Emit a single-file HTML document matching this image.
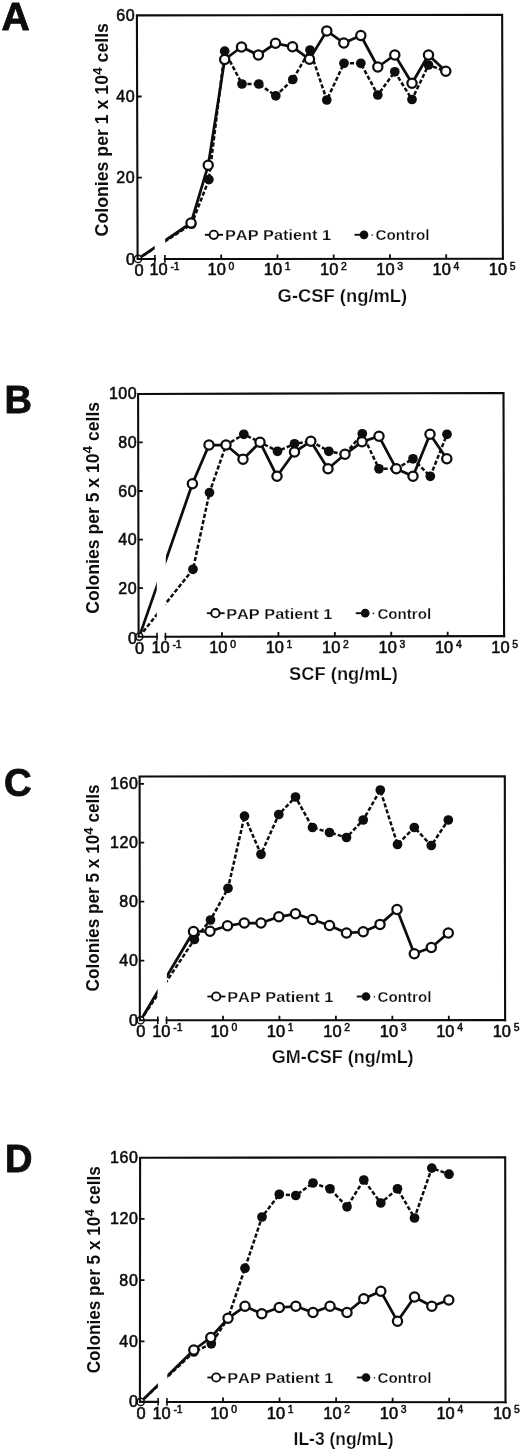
<!DOCTYPE html>
<html><head><meta charset="utf-8"><title>Figure</title>
<style>
html,body{margin:0;padding:0;background:#fff;}
body{width:520px;height:1451px;overflow:hidden;}
svg{display:block;will-change:transform;}
text{font-family:"Liberation Sans",sans-serif;fill:#0d0d0d;stroke:#0d0d0d;stroke-width:0.55;stroke-linejoin:round;}
.ln{fill:none;stroke:#0d0d0d;stroke-width:2.75;stroke-linejoin:round;stroke-linecap:butt;}
.ds{fill:none;stroke:#0d0d0d;stroke-width:2.5;stroke-dasharray:4.2 2.1;stroke-linejoin:round;}
.op{fill:#fff;stroke:#0d0d0d;stroke-width:2.25;}
.fl{fill:#0d0d0d;stroke:none;}
.ax{fill:none;stroke:#0d0d0d;stroke-width:2.1;stroke-linecap:square;}
.tk{fill:none;stroke:#0d0d0d;stroke-width:1.8;}
</style></head>
<body>
<svg width="520" height="1451" viewBox="0 0 520 1451">
<rect x="0" y="0" width="520" height="1451" fill="#ffffff"/>
<g>
<!-- Panel A -->
<g>
<text x="1.6" y="30.4" font-size="39.6" font-weight="bold" style="stroke-width:0.85" textLength="28.2" lengthAdjust="spacingAndGlyphs">A</text>
<polyline class="ds" points="138,258.9 191.6,224.2 208.9,179.6 224.7,51.2 242,84 258.8,84 275.8,95.8 292.8,79.5 310,50 326.8,100 344,63.3 360.8,63.3 377.8,95 394.8,71.8 412,99.5 428.5,65 445.8,71.3"/>
<circle class="fl" cx="191.6" cy="224.2" r="4.85"/>
<circle class="fl" cx="208.9" cy="179.6" r="4.85"/>
<circle class="fl" cx="224.7" cy="51.2" r="4.85"/>
<circle class="fl" cx="242" cy="84" r="4.85"/>
<circle class="fl" cx="258.8" cy="84" r="4.85"/>
<circle class="fl" cx="275.8" cy="95.8" r="4.85"/>
<circle class="fl" cx="292.8" cy="79.5" r="4.85"/>
<circle class="fl" cx="310" cy="50" r="4.85"/>
<circle class="fl" cx="326.8" cy="100" r="4.85"/>
<circle class="fl" cx="344" cy="63.3" r="4.85"/>
<circle class="fl" cx="360.8" cy="63.3" r="4.85"/>
<circle class="fl" cx="377.8" cy="95" r="4.85"/>
<circle class="fl" cx="394.8" cy="71.8" r="4.85"/>
<circle class="fl" cx="412" cy="99.5" r="4.85"/>
<circle class="fl" cx="428.5" cy="65" r="4.85"/>
<circle class="fl" cx="445.8" cy="71.3" r="4.85"/>
<polyline class="ln" points="138,258.9 191,223 208.2,165.3 224.7,59.5 241.5,47 258.4,55 275.5,43.3 292.5,46.8 309.5,59.3 326.8,30.9 343.8,43 360.8,35.5 377.8,67 394.8,55 412,83.3 428.5,55 445.8,71.3"/>
<circle cx="138" cy="258.9" r="3.6" fill="#fff" stroke="#0d0d0d" stroke-width="1.4"/>
<rect x="154.7" y="17.4" width="10.5" height="241.6" fill="#fff"/>
<path class="ax" d="M154.9 258.99 L137.6 259 L136.9 15.4 L502.15 14.8 L502.9 258.8"/>
<path class="ax" d="M502.9 258.8 L164.9 258.99"/>
<path class="tk" style="stroke-width:1.6" d="M154.9 255.09 V262.69 M164.9 255.09 V262.69"/>
<path class="tk" d="M221.2 258.95 V254.45 M277.45 258.92 V254.42 M333.7 258.89 V254.39 M389.95 258.86 V254.36 M446.2 258.83 V254.33 M137.37 177.7 H141.87 M137.13 96.5 H141.63"/>
<circle class="op" cx="191" cy="223" r="4.62"/>
<circle class="op" cx="208.2" cy="165.3" r="4.62"/>
<circle class="op" cx="224.7" cy="59.5" r="4.62"/>
<circle class="op" cx="241.5" cy="47" r="4.62"/>
<circle class="op" cx="258.4" cy="55" r="4.62"/>
<circle class="op" cx="275.5" cy="43.3" r="4.62"/>
<circle class="op" cx="292.5" cy="46.8" r="4.62"/>
<circle class="op" cx="309.5" cy="59.3" r="4.62"/>
<circle class="op" cx="326.8" cy="30.9" r="4.62"/>
<circle class="op" cx="343.8" cy="43" r="4.62"/>
<circle class="op" cx="360.8" cy="35.5" r="4.62"/>
<circle class="op" cx="377.8" cy="67" r="4.62"/>
<circle class="op" cx="394.8" cy="55" r="4.62"/>
<circle class="op" cx="412" cy="83.3" r="4.62"/>
<circle class="op" cx="428.5" cy="55" r="4.62"/>
<circle class="op" cx="445.8" cy="71.3" r="4.62"/>
<text x="125.94" y="265.4" font-size="16" textLength="9.26" lengthAdjust="spacing">0</text>
<text x="116.19" y="183.2" font-size="16" textLength="18.51" lengthAdjust="spacing">20</text>
<text x="116.19" y="102" font-size="16" textLength="18.51" lengthAdjust="spacing">40</text>
<text x="116.19" y="20.9" font-size="16" textLength="18.51" lengthAdjust="spacing">60</text>
<text x="134.53" y="275.5" font-size="15.8" textLength="9.14" lengthAdjust="spacingAndGlyphs">0</text>
<text x="149.4" y="275.3" font-size="15.8" textLength="18.28" lengthAdjust="spacingAndGlyphs">10</text><text x="170.38" y="269.6" font-size="10.4" style="stroke-width:0.5">-1</text>
<text x="207.62" y="275.3" font-size="15.8" textLength="18.28" lengthAdjust="spacingAndGlyphs">10</text><text x="228.6" y="269.6" font-size="10.4" style="stroke-width:0.5">0</text>
<text x="263.87" y="275.3" font-size="15.8" textLength="18.28" lengthAdjust="spacingAndGlyphs">10</text><text x="284.85" y="269.6" font-size="10.4" style="stroke-width:0.5">1</text>
<text x="320.12" y="275.3" font-size="15.8" textLength="18.28" lengthAdjust="spacingAndGlyphs">10</text><text x="341.1" y="269.6" font-size="10.4" style="stroke-width:0.5">2</text>
<text x="376.37" y="275.3" font-size="15.8" textLength="18.28" lengthAdjust="spacingAndGlyphs">10</text><text x="397.35" y="269.6" font-size="10.4" style="stroke-width:0.5">3</text>
<text x="432.62" y="275.3" font-size="15.8" textLength="18.28" lengthAdjust="spacingAndGlyphs">10</text><text x="453.6" y="269.6" font-size="10.4" style="stroke-width:0.5">4</text>
<text x="488.87" y="275.3" font-size="15.8" textLength="18.28" lengthAdjust="spacingAndGlyphs">10</text><text x="509.85" y="269.6" font-size="10.4" style="stroke-width:0.5">5</text>
<text x="277.6" y="302.3" font-size="18.6" font-weight="bold" style="stroke:#fff;stroke-width:0.25" textLength="129.6" lengthAdjust="spacingAndGlyphs">G-CSF (ng/mL)</text>
<g transform="translate(108.2 236.4) rotate(-90)"><text x="0" y="0" font-size="17.6" font-weight="bold" style="stroke:none" textLength="213.4" lengthAdjust="spacingAndGlyphs">Colonies per 1 x 10<tspan font-size="13.5" dy="-6.6">4</tspan><tspan dy="6.6"> cells</tspan></text></g>
<path class="ln" style="stroke-width:1.9" d="M204.9 234.8 H223"/><circle class="op" cx="213.8" cy="234.8" r="4.15" style="stroke-width:1.9"/><text x="225" y="240.4" font-size="15" font-weight="bold" style="stroke:#fff;stroke-width:0.25;font-kerning:none" textLength="106" lengthAdjust="spacingAndGlyphs">PAP Patient 1</text>
<path class="ln" style="stroke-width:1.9" d="M354.5 234.8 H364"/><circle class="fl" cx="372.2" cy="235" r="0.8"/><circle class="fl" cx="364" cy="234.8" r="4.35"/><text x="375.6" y="240.4" font-size="15" font-weight="bold" style="stroke:#fff;stroke-width:0.25" textLength="54" lengthAdjust="spacingAndGlyphs">Control</text>
</g>
<!-- Panel B -->
<g>
<text x="4.6" y="413.2" font-size="39.6" font-weight="bold" style="stroke-width:0.85" textLength="27.5" lengthAdjust="spacingAndGlyphs">B</text>
<polyline class="ds" points="139.3,636.6 193,569.3 209.5,492.6 226,445 243.8,434.3 260,442.2 277.5,451.3 294.5,443.8 311,441.3 328.8,451.3 345,454.3 362.3,433.8 379,468.8 396.3,468.8 413,458.8 430.3,476.3 447,434.3"/>
<circle class="fl" cx="193" cy="569.3" r="4.85"/>
<circle class="fl" cx="209.5" cy="492.6" r="4.85"/>
<circle class="fl" cx="226" cy="445" r="4.85"/>
<circle class="fl" cx="243.8" cy="434.3" r="4.85"/>
<circle class="fl" cx="260" cy="442.2" r="4.85"/>
<circle class="fl" cx="277.5" cy="451.3" r="4.85"/>
<circle class="fl" cx="294.5" cy="443.8" r="4.85"/>
<circle class="fl" cx="311" cy="441.3" r="4.85"/>
<circle class="fl" cx="328.8" cy="451.3" r="4.85"/>
<circle class="fl" cx="345" cy="454.3" r="4.85"/>
<circle class="fl" cx="362.3" cy="433.8" r="4.85"/>
<circle class="fl" cx="379" cy="468.8" r="4.85"/>
<circle class="fl" cx="396.3" cy="468.8" r="4.85"/>
<circle class="fl" cx="413" cy="458.8" r="4.85"/>
<circle class="fl" cx="430.3" cy="476.3" r="4.85"/>
<circle class="fl" cx="447" cy="434.3" r="4.85"/>
<polyline class="ln" points="139.3,636.6 192.4,483.8 209,445 226,445 243,459.3 260,442.2 277,476.3 294.5,452 310.8,441.3 328,468.8 345,454.3 362,441.8 379,436.3 396.3,468.8 413,476.3 430,434.3 446.8,458.8"/>
<circle cx="139.3" cy="636.6" r="3.6" fill="#fff" stroke="#0d0d0d" stroke-width="1.4"/>
<rect x="156.8" y="395.95" width="9" height="240.85" fill="#fff"/>
<path class="ax" d="M157 636.77 L138.6 636.8 L138.1 393.95 L503.5 393 L504.1 636.15"/>
<path class="ax" d="M504.1 636.15 L165.5 636.75"/>
<path class="tk" style="stroke-width:1.6" d="M157 632.87 V640.47 M165.5 632.85 V640.45"/>
<path class="tk" d="M222 636.65 V632.15 M278.43 636.55 V632.05 M334.85 636.45 V631.95 M391.27 636.35 V631.85 M447.7 636.25 V631.75 M138.5 588.2 H143 M138.4 539.7 H142.9 M138.3 491 H142.8 M138.2 442.4 H142.7"/>
<circle class="op" cx="192.4" cy="483.8" r="4.62"/>
<circle class="op" cx="209" cy="445" r="4.62"/>
<circle class="op" cx="226" cy="445" r="4.62"/>
<circle class="op" cx="243" cy="459.3" r="4.62"/>
<circle class="op" cx="260" cy="442.2" r="4.62"/>
<circle class="op" cx="277" cy="476.3" r="4.62"/>
<circle class="op" cx="294.5" cy="452" r="4.62"/>
<circle class="op" cx="310.8" cy="441.3" r="4.62"/>
<circle class="op" cx="328" cy="468.8" r="4.62"/>
<circle class="op" cx="345" cy="454.3" r="4.62"/>
<circle class="op" cx="362" cy="441.8" r="4.62"/>
<circle class="op" cx="379" cy="436.3" r="4.62"/>
<circle class="op" cx="396.3" cy="468.8" r="4.62"/>
<circle class="op" cx="413" cy="476.3" r="4.62"/>
<circle class="op" cx="430" cy="434.3" r="4.62"/>
<circle class="op" cx="446.8" cy="458.8" r="4.62"/>
<text x="127.94" y="643.6" font-size="16" textLength="9.26" lengthAdjust="spacing">0</text>
<text x="118.19" y="593.7" font-size="16" textLength="18.51" lengthAdjust="spacing">20</text>
<text x="118.19" y="545.2" font-size="16" textLength="18.51" lengthAdjust="spacing">40</text>
<text x="118.19" y="496.5" font-size="16" textLength="18.51" lengthAdjust="spacing">60</text>
<text x="118.19" y="447.9" font-size="16" textLength="18.51" lengthAdjust="spacing">80</text>
<text x="108.93" y="399.45" font-size="16" textLength="27.77" lengthAdjust="spacing">100</text>
<text x="135.13" y="653.6" font-size="15.8" textLength="9.14" lengthAdjust="spacingAndGlyphs">0</text>
<text x="151.4" y="653.4" font-size="15.8" textLength="18.28" lengthAdjust="spacingAndGlyphs">10</text><text x="172.38" y="647.7" font-size="10.4" style="stroke-width:0.5">-1</text>
<text x="209.22" y="653.4" font-size="15.8" textLength="18.28" lengthAdjust="spacingAndGlyphs">10</text><text x="230.2" y="647.7" font-size="10.4" style="stroke-width:0.5">0</text>
<text x="265.65" y="653.4" font-size="15.8" textLength="18.28" lengthAdjust="spacingAndGlyphs">10</text><text x="286.62" y="647.7" font-size="10.4" style="stroke-width:0.5">1</text>
<text x="322.07" y="653.4" font-size="15.8" textLength="18.28" lengthAdjust="spacingAndGlyphs">10</text><text x="343.05" y="647.7" font-size="10.4" style="stroke-width:0.5">2</text>
<text x="378.5" y="653.4" font-size="15.8" textLength="18.28" lengthAdjust="spacingAndGlyphs">10</text><text x="399.47" y="647.7" font-size="10.4" style="stroke-width:0.5">3</text>
<text x="434.92" y="653.4" font-size="15.8" textLength="18.28" lengthAdjust="spacingAndGlyphs">10</text><text x="455.9" y="647.7" font-size="10.4" style="stroke-width:0.5">4</text>
<text x="491.35" y="653.4" font-size="15.8" textLength="18.28" lengthAdjust="spacingAndGlyphs">10</text><text x="512.32" y="647.7" font-size="10.4" style="stroke-width:0.5">5</text>
<text x="289.1" y="680" font-size="18.6" font-weight="bold" style="stroke:#fff;stroke-width:0.25" textLength="108.8" lengthAdjust="spacingAndGlyphs">SCF (ng/mL)</text>
<g transform="translate(99 613.7) rotate(-90)"><text x="0" y="0" font-size="17.6" font-weight="bold" style="stroke:none" textLength="211.8" lengthAdjust="spacingAndGlyphs">Colonies per 5 x 10<tspan font-size="13.5" dy="-6.6">4</tspan><tspan dy="6.6"> cells</tspan></text></g>
<path class="ln" style="stroke-width:1.9" d="M206.9 613.2 H224.6"/><circle class="op" cx="215.4" cy="613.2" r="4.15" style="stroke-width:1.9"/><text x="226.2" y="618.8" font-size="15" font-weight="bold" style="stroke:#fff;stroke-width:0.25;font-kerning:none" textLength="106.1" lengthAdjust="spacingAndGlyphs">PAP Patient 1</text>
<path class="ln" style="stroke-width:1.9" d="M355.8 613.2 H365.2"/><circle class="fl" cx="373.4" cy="613.4" r="0.8"/><circle class="fl" cx="365.2" cy="613.2" r="4.35"/><text x="377.4" y="618.8" font-size="15" font-weight="bold" style="stroke:#fff;stroke-width:0.25" textLength="53.8" lengthAdjust="spacingAndGlyphs">Control</text>
</g>
<!-- Panel C -->
<g>
<text x="3.9" y="796.1" font-size="39.6" font-weight="bold" style="stroke-width:0.85" textLength="27.7" lengthAdjust="spacingAndGlyphs">C</text>
<polyline class="ds" points="140.6,1020.3 194.4,939.5 210.5,920 228,888.3 244.5,816.1 261,854.3 278.8,814.5 295.5,797 312.5,827.5 329.5,832.5 346.5,837.5 363.2,820 380.3,790 397.5,844.5 414.3,827.5 431.3,845.5 448.3,820"/>
<circle class="fl" cx="194.4" cy="939.5" r="4.85"/>
<circle class="fl" cx="210.5" cy="920" r="4.85"/>
<circle class="fl" cx="228" cy="888.3" r="4.85"/>
<circle class="fl" cx="244.5" cy="816.1" r="4.85"/>
<circle class="fl" cx="261" cy="854.3" r="4.85"/>
<circle class="fl" cx="278.8" cy="814.5" r="4.85"/>
<circle class="fl" cx="295.5" cy="797" r="4.85"/>
<circle class="fl" cx="312.5" cy="827.5" r="4.85"/>
<circle class="fl" cx="329.5" cy="832.5" r="4.85"/>
<circle class="fl" cx="346.5" cy="837.5" r="4.85"/>
<circle class="fl" cx="363.2" cy="820" r="4.85"/>
<circle class="fl" cx="380.3" cy="790" r="4.85"/>
<circle class="fl" cx="397.5" cy="844.5" r="4.85"/>
<circle class="fl" cx="414.3" cy="827.5" r="4.85"/>
<circle class="fl" cx="431.3" cy="845.5" r="4.85"/>
<circle class="fl" cx="448.3" cy="820" r="4.85"/>
<polyline class="ln" points="140.6,1020.3 193.5,931.5 210,931.3 227.5,925.8 244.3,923 261,923 278.8,916.8 295.5,913.8 312.5,919.5 329.5,925.5 346.5,933 363.2,931.8 380,924.4 397,909.5 414.3,953.8 431.3,947.5 448.3,933"/>
<circle cx="140.6" cy="1020.3" r="3.6" fill="#fff" stroke="#0d0d0d" stroke-width="1.4"/>
<rect x="157.6" y="778.5" width="9.3" height="241.8" fill="#fff"/>
<path class="ax" d="M157.8 1020.29 L139.85 1020.3 L139.6 776.5 L504.8 776.2 L505.1 1020.15"/>
<path class="ax" d="M505.1 1020.15 L166.6 1020.29"/>
<path class="tk" style="stroke-width:1.6" d="M157.8 1016.39 V1023.99 M166.6 1016.39 V1023.99"/>
<path class="tk" d="M223 1020.27 V1015.77 M279.45 1020.24 V1015.74 M335.9 1020.22 V1015.72 M392.35 1020.2 V1015.7 M448.8 1020.17 V1015.67 M139.79 960.7 H144.29 M139.73 901.6 H144.23 M139.67 842.6 H144.17 M139.61 783.8 H144.11"/>
<circle class="op" cx="193.5" cy="931.5" r="4.62"/>
<circle class="op" cx="210" cy="931.3" r="4.62"/>
<circle class="op" cx="227.5" cy="925.8" r="4.62"/>
<circle class="op" cx="244.3" cy="923" r="4.62"/>
<circle class="op" cx="261" cy="923" r="4.62"/>
<circle class="op" cx="278.8" cy="916.8" r="4.62"/>
<circle class="op" cx="295.5" cy="913.8" r="4.62"/>
<circle class="op" cx="312.5" cy="919.5" r="4.62"/>
<circle class="op" cx="329.5" cy="925.5" r="4.62"/>
<circle class="op" cx="346.5" cy="933" r="4.62"/>
<circle class="op" cx="363.2" cy="931.8" r="4.62"/>
<circle class="op" cx="380" cy="924.4" r="4.62"/>
<circle class="op" cx="397" cy="909.5" r="4.62"/>
<circle class="op" cx="414.3" cy="953.8" r="4.62"/>
<circle class="op" cx="431.3" cy="947.5" r="4.62"/>
<circle class="op" cx="448.3" cy="933" r="4.62"/>
<text x="129.04" y="1026.2" font-size="16" textLength="9.26" lengthAdjust="spacing">0</text>
<text x="119.29" y="966.2" font-size="16" textLength="18.51" lengthAdjust="spacing">40</text>
<text x="119.29" y="907.1" font-size="16" textLength="18.51" lengthAdjust="spacing">80</text>
<text x="110.03" y="848.1" font-size="16" textLength="27.77" lengthAdjust="spacing">120</text>
<text x="110.03" y="789.3" font-size="16" textLength="27.77" lengthAdjust="spacing">160</text>
<text x="136.33" y="1037.1" font-size="15.8" textLength="9.14" lengthAdjust="spacingAndGlyphs">0</text>
<text x="152.2" y="1036.9" font-size="15.8" textLength="18.28" lengthAdjust="spacingAndGlyphs">10</text><text x="173.18" y="1031.2" font-size="10.4" style="stroke-width:0.5">-1</text>
<text x="210.42" y="1036.9" font-size="15.8" textLength="18.28" lengthAdjust="spacingAndGlyphs">10</text><text x="231.4" y="1031.2" font-size="10.4" style="stroke-width:0.5">0</text>
<text x="266.87" y="1036.9" font-size="15.8" textLength="18.28" lengthAdjust="spacingAndGlyphs">10</text><text x="287.85" y="1031.2" font-size="10.4" style="stroke-width:0.5">1</text>
<text x="323.32" y="1036.9" font-size="15.8" textLength="18.28" lengthAdjust="spacingAndGlyphs">10</text><text x="344.3" y="1031.2" font-size="10.4" style="stroke-width:0.5">2</text>
<text x="379.77" y="1036.9" font-size="15.8" textLength="18.28" lengthAdjust="spacingAndGlyphs">10</text><text x="400.75" y="1031.2" font-size="10.4" style="stroke-width:0.5">3</text>
<text x="436.22" y="1036.9" font-size="15.8" textLength="18.28" lengthAdjust="spacingAndGlyphs">10</text><text x="457.2" y="1031.2" font-size="10.4" style="stroke-width:0.5">4</text>
<text x="492.67" y="1036.9" font-size="15.8" textLength="18.28" lengthAdjust="spacingAndGlyphs">10</text><text x="513.65" y="1031.2" font-size="10.4" style="stroke-width:0.5">5</text>
<text x="271.8" y="1063.3" font-size="18.6" font-weight="bold" style="stroke:#fff;stroke-width:0.25" textLength="141.8" lengthAdjust="spacingAndGlyphs">GM-CSF (ng/mL)</text>
<g transform="translate(99.3 991.4) rotate(-90)"><text x="0" y="0" font-size="17.6" font-weight="bold" style="stroke:none" textLength="207.1" lengthAdjust="spacingAndGlyphs">Colonies per 5 x 10<tspan font-size="13.5" dy="-6.6">4</tspan><tspan dy="6.6"> cells</tspan></text></g>
<path class="ln" style="stroke-width:1.9" d="M207.4 996.5 H225.4"/><circle class="op" cx="216.2" cy="996.5" r="4.15" style="stroke-width:1.9"/><text x="227.2" y="1001.8" font-size="15" font-weight="bold" style="stroke:#fff;stroke-width:0.25;font-kerning:none" textLength="106.2" lengthAdjust="spacingAndGlyphs">PAP Patient 1</text>
<path class="ln" style="stroke-width:1.9" d="M356.8 996.5 H366"/><circle class="fl" cx="374.4" cy="996.7" r="0.8"/><circle class="fl" cx="366" cy="996.5" r="4.35"/><text x="377.6" y="1001.8" font-size="15" font-weight="bold" style="stroke:#fff;stroke-width:0.25" textLength="53.8" lengthAdjust="spacingAndGlyphs">Control</text>
</g>
<!-- Panel D -->
<g>
<text x="5" y="1172.4" font-size="39.6" font-weight="bold" style="stroke-width:0.85" textLength="27.5" lengthAdjust="spacingAndGlyphs">D</text>
<polyline class="ds" points="140.7,1401.9 193.8,1352 211.3,1343.8 228,1318.3 245,1268.2 262,1217 279.3,1194.3 295.8,1195.5 313,1183 330,1188.8 347,1206.8 363.8,1180 380.8,1203 397.5,1188.8 414.5,1218 431.8,1168.1 449,1174.2"/>
<circle class="fl" cx="193.8" cy="1352" r="4.85"/>
<circle class="fl" cx="211.3" cy="1343.8" r="4.85"/>
<circle class="fl" cx="228" cy="1318.3" r="4.85"/>
<circle class="fl" cx="245" cy="1268.2" r="4.85"/>
<circle class="fl" cx="262" cy="1217" r="4.85"/>
<circle class="fl" cx="279.3" cy="1194.3" r="4.85"/>
<circle class="fl" cx="295.8" cy="1195.5" r="4.85"/>
<circle class="fl" cx="313" cy="1183" r="4.85"/>
<circle class="fl" cx="330" cy="1188.8" r="4.85"/>
<circle class="fl" cx="347" cy="1206.8" r="4.85"/>
<circle class="fl" cx="363.8" cy="1180" r="4.85"/>
<circle class="fl" cx="380.8" cy="1203" r="4.85"/>
<circle class="fl" cx="397.5" cy="1188.8" r="4.85"/>
<circle class="fl" cx="414.5" cy="1218" r="4.85"/>
<circle class="fl" cx="431.8" cy="1168.1" r="4.85"/>
<circle class="fl" cx="449" cy="1174.2" r="4.85"/>
<polyline class="ln" points="140.7,1401.9 193.8,1350 210.8,1337.5 228,1318.3 245,1306.3 261.8,1313.8 279.3,1307.5 295.8,1306.3 313,1312.5 330,1306.3 347,1312.5 363.8,1298.8 380.8,1291.3 397.5,1321.3 414.5,1297 431.8,1306.3 448.8,1300"/>
<circle cx="140.7" cy="1401.9" r="3.6" fill="#fff" stroke="#0d0d0d" stroke-width="1.4"/>
<rect x="157.9" y="1159.8" width="9.4" height="242.1" fill="#fff"/>
<path class="ax" d="M158.1 1401.92 L139.9 1401.9 L140.1 1157.8 L505.2 1157.2 L505.5 1402.3"/>
<path class="ax" d="M505.5 1402.3 L167 1401.93"/>
<path class="tk" style="stroke-width:1.6" d="M158.1 1398.02 V1405.62 M167 1398.03 V1405.63"/>
<path class="tk" d="M223 1401.99 V1397.49 M279.55 1402.05 V1397.55 M336.1 1402.11 V1397.61 M392.65 1402.18 V1397.68 M449.2 1402.24 V1397.74 M139.95 1341.4 H144.45 M140 1280.2 H144.5 M140.05 1218.8 H144.55"/>
<circle class="op" cx="193.8" cy="1350" r="4.62"/>
<circle class="op" cx="210.8" cy="1337.5" r="4.62"/>
<circle class="op" cx="228" cy="1318.3" r="4.62"/>
<circle class="op" cx="245" cy="1306.3" r="4.62"/>
<circle class="op" cx="261.8" cy="1313.8" r="4.62"/>
<circle class="op" cx="279.3" cy="1307.5" r="4.62"/>
<circle class="op" cx="295.8" cy="1306.3" r="4.62"/>
<circle class="op" cx="313" cy="1312.5" r="4.62"/>
<circle class="op" cx="330" cy="1306.3" r="4.62"/>
<circle class="op" cx="347" cy="1312.5" r="4.62"/>
<circle class="op" cx="363.8" cy="1298.8" r="4.62"/>
<circle class="op" cx="380.8" cy="1291.3" r="4.62"/>
<circle class="op" cx="397.5" cy="1321.3" r="4.62"/>
<circle class="op" cx="414.5" cy="1297" r="4.62"/>
<circle class="op" cx="431.8" cy="1306.3" r="4.62"/>
<circle class="op" cx="448.8" cy="1300" r="4.62"/>
<text x="129.04" y="1407.4" font-size="16" textLength="9.26" lengthAdjust="spacing">0</text>
<text x="119.29" y="1346.9" font-size="16" textLength="18.51" lengthAdjust="spacing">40</text>
<text x="119.29" y="1285.7" font-size="16" textLength="18.51" lengthAdjust="spacing">80</text>
<text x="110.03" y="1224.3" font-size="16" textLength="27.77" lengthAdjust="spacing">120</text>
<text x="110.03" y="1163.3" font-size="16" textLength="27.77" lengthAdjust="spacing">160</text>
<text x="136.43" y="1418.7" font-size="15.8" textLength="9.14" lengthAdjust="spacingAndGlyphs">0</text>
<text x="152.4" y="1418.5" font-size="15.8" textLength="18.28" lengthAdjust="spacingAndGlyphs">10</text><text x="173.38" y="1412.8" font-size="10.4" style="stroke-width:0.5">-1</text>
<text x="210.22" y="1418.5" font-size="15.8" textLength="18.28" lengthAdjust="spacingAndGlyphs">10</text><text x="231.2" y="1412.8" font-size="10.4" style="stroke-width:0.5">0</text>
<text x="266.77" y="1418.5" font-size="15.8" textLength="18.28" lengthAdjust="spacingAndGlyphs">10</text><text x="287.75" y="1412.8" font-size="10.4" style="stroke-width:0.5">1</text>
<text x="323.32" y="1418.5" font-size="15.8" textLength="18.28" lengthAdjust="spacingAndGlyphs">10</text><text x="344.3" y="1412.8" font-size="10.4" style="stroke-width:0.5">2</text>
<text x="379.87" y="1418.5" font-size="15.8" textLength="18.28" lengthAdjust="spacingAndGlyphs">10</text><text x="400.85" y="1412.8" font-size="10.4" style="stroke-width:0.5">3</text>
<text x="436.42" y="1418.5" font-size="15.8" textLength="18.28" lengthAdjust="spacingAndGlyphs">10</text><text x="457.4" y="1412.8" font-size="10.4" style="stroke-width:0.5">4</text>
<text x="492.97" y="1418.5" font-size="15.8" textLength="18.28" lengthAdjust="spacingAndGlyphs">10</text><text x="513.95" y="1412.8" font-size="10.4" style="stroke-width:0.5">5</text>
<text x="293.6" y="1445" font-size="18.6" font-weight="bold" style="stroke:#fff;stroke-width:0.25" textLength="99.9" lengthAdjust="spacingAndGlyphs">IL-3 (ng/mL)</text>
<g transform="translate(100.2 1373.3) rotate(-90)"><text x="0" y="0" font-size="17.6" font-weight="bold" style="stroke:none" textLength="207.1" lengthAdjust="spacingAndGlyphs">Colonies per 5 x 10<tspan font-size="13.5" dy="-6.6">4</tspan><tspan dy="6.6"> cells</tspan></text></g>
<path class="ln" style="stroke-width:1.9" d="M207.4 1377.5 H225.4"/><circle class="op" cx="216.2" cy="1377.5" r="4.15" style="stroke-width:1.9"/><text x="227.2" y="1382.8" font-size="15" font-weight="bold" style="stroke:#fff;stroke-width:0.25;font-kerning:none" textLength="106.2" lengthAdjust="spacingAndGlyphs">PAP Patient 1</text>
<path class="ln" style="stroke-width:1.9" d="M356.8 1377.5 H366"/><circle class="fl" cx="374.4" cy="1377.7" r="0.8"/><circle class="fl" cx="366" cy="1377.5" r="4.35"/><text x="377.6" y="1382.8" font-size="15" font-weight="bold" style="stroke:#fff;stroke-width:0.25" textLength="53.8" lengthAdjust="spacingAndGlyphs">Control</text>
</g>
</g>
</svg>
</body></html>
